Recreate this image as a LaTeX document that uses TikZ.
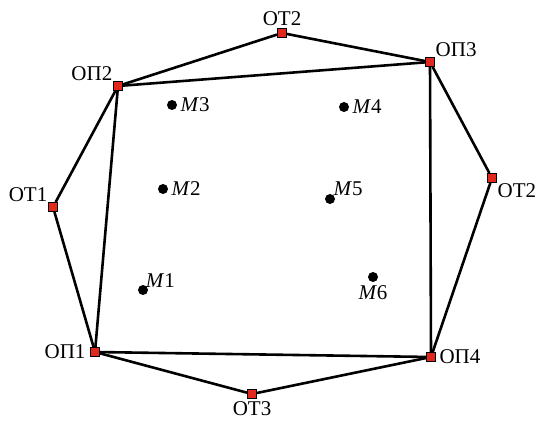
\documentclass[tikz,border=0pt]{standalone}
\usepackage{fontspec}
\setmainfont{Liberation Serif}
\usetikzlibrary{positioning}
\definecolor{stRed}{RGB}{225,40,30}

\begin{document}
\begin{tikzpicture}[
    x=1pt, y=-1pt,
    every node/.style={font=\fontsize{21}{24}\selectfont},
    station/.style={rectangle, draw=black, fill=stRed, line width=1pt, minimum size=9pt, inner sep=0pt},
    meas/.style   ={circle, fill=black, minimum size=10pt, inner sep=0pt},
    link/.style   ={line width=2.6pt, draw=black}
]
\useasboundingbox (0,0) rectangle (535,428);
% support points (OP) and transit points (OT)
\node[station, label={[label distance=1pt]left:ОП1}] (op1) at (95,352) {};
\node[station, label={[label distance=-4pt]above left:ОП2}] (op2) at (118,86) {};
\node[station, label={[label distance=-4pt]above right:ОП3}] (op3) at (430,62) {};
\node[station, label={[label distance=0pt]right:ОП4}] (op4) at (431,357) {};
\node[station, label={[label distance=-4pt]above left:ОТ1}] (ot1) at (53,207) {};
\node[station, label={[label distance=-1pt]above:ОТ2}] (ot2a) at (282,33) {};
\node[station, label={[label distance=-4pt]below right:ОТ2}] (ot2b) at (492,178) {};
\node[station, label={[label distance=-1pt]below:ОТ3}] (ot3) at (252,394) {};
% measurement points
\node[meas, label={[label distance=-6pt]above right:\textit{M}1}] (m1) at (143,290) {};
\node[meas, label={[label distance=0pt]right:\textit{M}2}] (m2) at (163,189) {};
\node[meas, label={[label distance=0pt]right:\textit{M}3}] (m3) at (172,105) {};
\node[meas, label={[label distance=0pt]right:\textit{M}4}] (m4) at (344,107) {};
\node[meas, label={[label distance=-5pt]above right:\textit{M}5}] (m5) at (330,199) {};
\node[meas, label={[label distance=0pt]below:\textit{M}6}] (m6) at (373,277) {};
\draw[link] (op1) -- (op2);
\draw[link] (op2) -- (op3);
\draw[link] (op3) -- (op4);
\draw[link] (op4) -- (op1);
\draw[link] (op1) -- (ot1);
\draw[link] (ot1) -- (op2);
\draw[link] (op2) -- (ot2a);
\draw[link] (ot2a) -- (op3);
\draw[link] (op3) -- (ot2b);
\draw[link] (ot2b) -- (op4);
\draw[link] (op4) -- (ot3);
\draw[link] (ot3) -- (op1);
\end{tikzpicture}
\end{document}
